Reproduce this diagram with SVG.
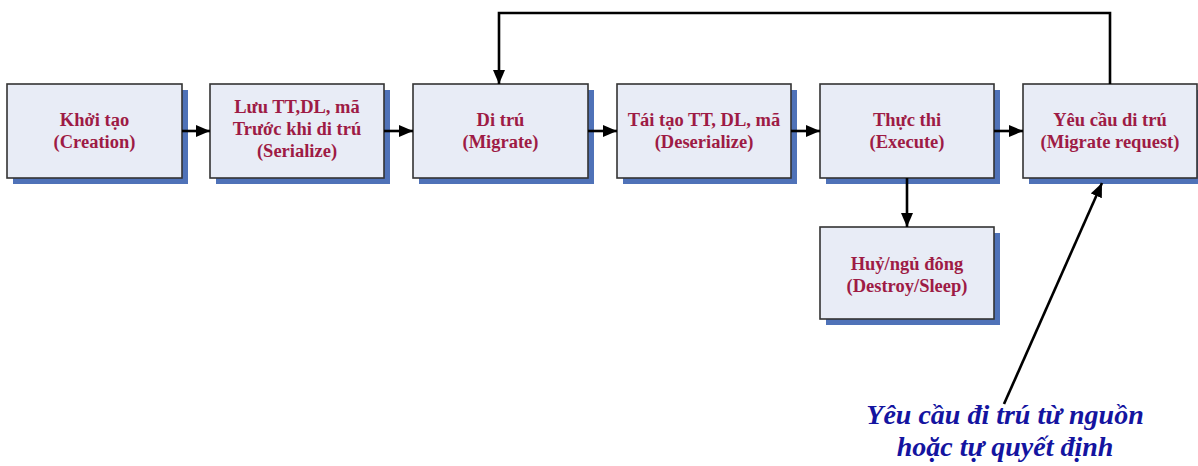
<svg xmlns="http://www.w3.org/2000/svg" width="1198" height="466" viewBox="0 0 1198 466">
  <style>
    .shadow { fill: #4f72b8; }
    .box { fill: #e8ecf6; stroke: #333333; stroke-width: 1.6; }
    .label { font-family: "Liberation Serif", "Times New Roman", serif; font-weight: bold; font-size: 18.5px; fill: #9e1b45; text-anchor: middle; }
    .edge { fill: none; stroke: #000000; stroke-width: 2.6; }
    .note { font-family: "Liberation Serif", "Times New Roman", serif; font-weight: bold; font-style: italic; font-size: 28px; fill: #1414a0; text-anchor: middle; }
  </style>
  <defs>
    <marker id="arrow" viewBox="0 0 14 12" refX="14" refY="6" markerWidth="14" markerHeight="12" markerUnits="userSpaceOnUse" orient="auto">
      <path d="M0,0 L14,6 L0,12 Z" fill="#000000"/>
    </marker>
  </defs>

  <rect width="1198" height="466" fill="#ffffff"/>

  <g id="node-creation">
    <rect class="shadow" x="13" y="90" width="175" height="94"/>
    <rect class="box" x="7" y="84" width="175" height="94"/>
    <text class="label" x="94.5" y="126">Khởi tạo</text>
    <text class="label" x="94.5" y="148">(Creation)</text>
  </g>

  <g id="node-serialize">
    <rect class="shadow" x="216" y="90" width="174" height="94"/>
    <rect class="box" x="210" y="84" width="174" height="94"/>
    <text class="label" x="297" y="113">Lưu TT,DL, mã</text>
    <text class="label" x="297" y="135">Trước khi di trú</text>
    <text class="label" x="297" y="157">(Serialize)</text>
  </g>

  <g id="node-migrate">
    <rect class="shadow" x="419" y="90" width="175" height="94"/>
    <rect class="box" x="413" y="84" width="175" height="94"/>
    <text class="label" x="500.5" y="126">Di trú</text>
    <text class="label" x="500.5" y="148">(Migrate)</text>
  </g>

  <g id="node-deserialize">
    <rect class="shadow" x="623" y="90" width="174" height="94"/>
    <rect class="box" x="617" y="84" width="174" height="94"/>
    <text class="label" x="704" y="126">Tái tạo TT, DL, mã</text>
    <text class="label" x="704" y="148">(Deserialize)</text>
  </g>

  <g id="node-execute">
    <rect class="shadow" x="826" y="90" width="174" height="94"/>
    <rect class="box" x="820" y="84" width="174" height="94"/>
    <text class="label" x="907" y="126">Thực thi</text>
    <text class="label" x="907" y="148">(Execute)</text>
  </g>

  <g id="node-migrate-request">
    <rect class="shadow" x="1029" y="90" width="174" height="94"/>
    <rect class="box" x="1023" y="84" width="174" height="94"/>
    <text class="label" x="1110" y="126">Yêu cầu di trú</text>
    <text class="label" x="1110" y="148">(Migrate request)</text>
  </g>

  <g id="node-destroy">
    <rect class="shadow" x="826" y="233" width="174" height="92"/>
    <rect class="box" x="820" y="227" width="174" height="92"/>
    <text class="label" x="907" y="270">Huỷ/ngủ đông</text>
    <text class="label" x="907" y="292">(Destroy/Sleep)</text>
  </g>

  <g id="connectors">
    <line class="edge" x1="182" y1="131" x2="210" y2="131" marker-end="url(#arrow)"/>
    <line class="edge" x1="384" y1="131" x2="413" y2="131" marker-end="url(#arrow)"/>
    <line class="edge" x1="588" y1="131" x2="617" y2="131" marker-end="url(#arrow)"/>
    <line class="edge" x1="791" y1="131" x2="820" y2="131" marker-end="url(#arrow)"/>
    <line class="edge" x1="994" y1="131" x2="1023" y2="131" marker-end="url(#arrow)"/>
    <line class="edge" x1="907" y1="178" x2="907" y2="227" marker-end="url(#arrow)"/>
    <polyline class="edge" points="1110,84 1110,13 499,13 499,84" marker-end="url(#arrow)"/>
    <line class="edge" x1="1004" y1="404" x2="1102" y2="183" stroke-width="1.8" marker-end="url(#arrow)"/>
  </g>

  <g id="note">
    <text class="note" x="1005" y="424">Yêu cầu đi trú từ nguồn</text>
    <text class="note" x="1005" y="456">hoặc tự quyết định</text>
  </g>
</svg>
